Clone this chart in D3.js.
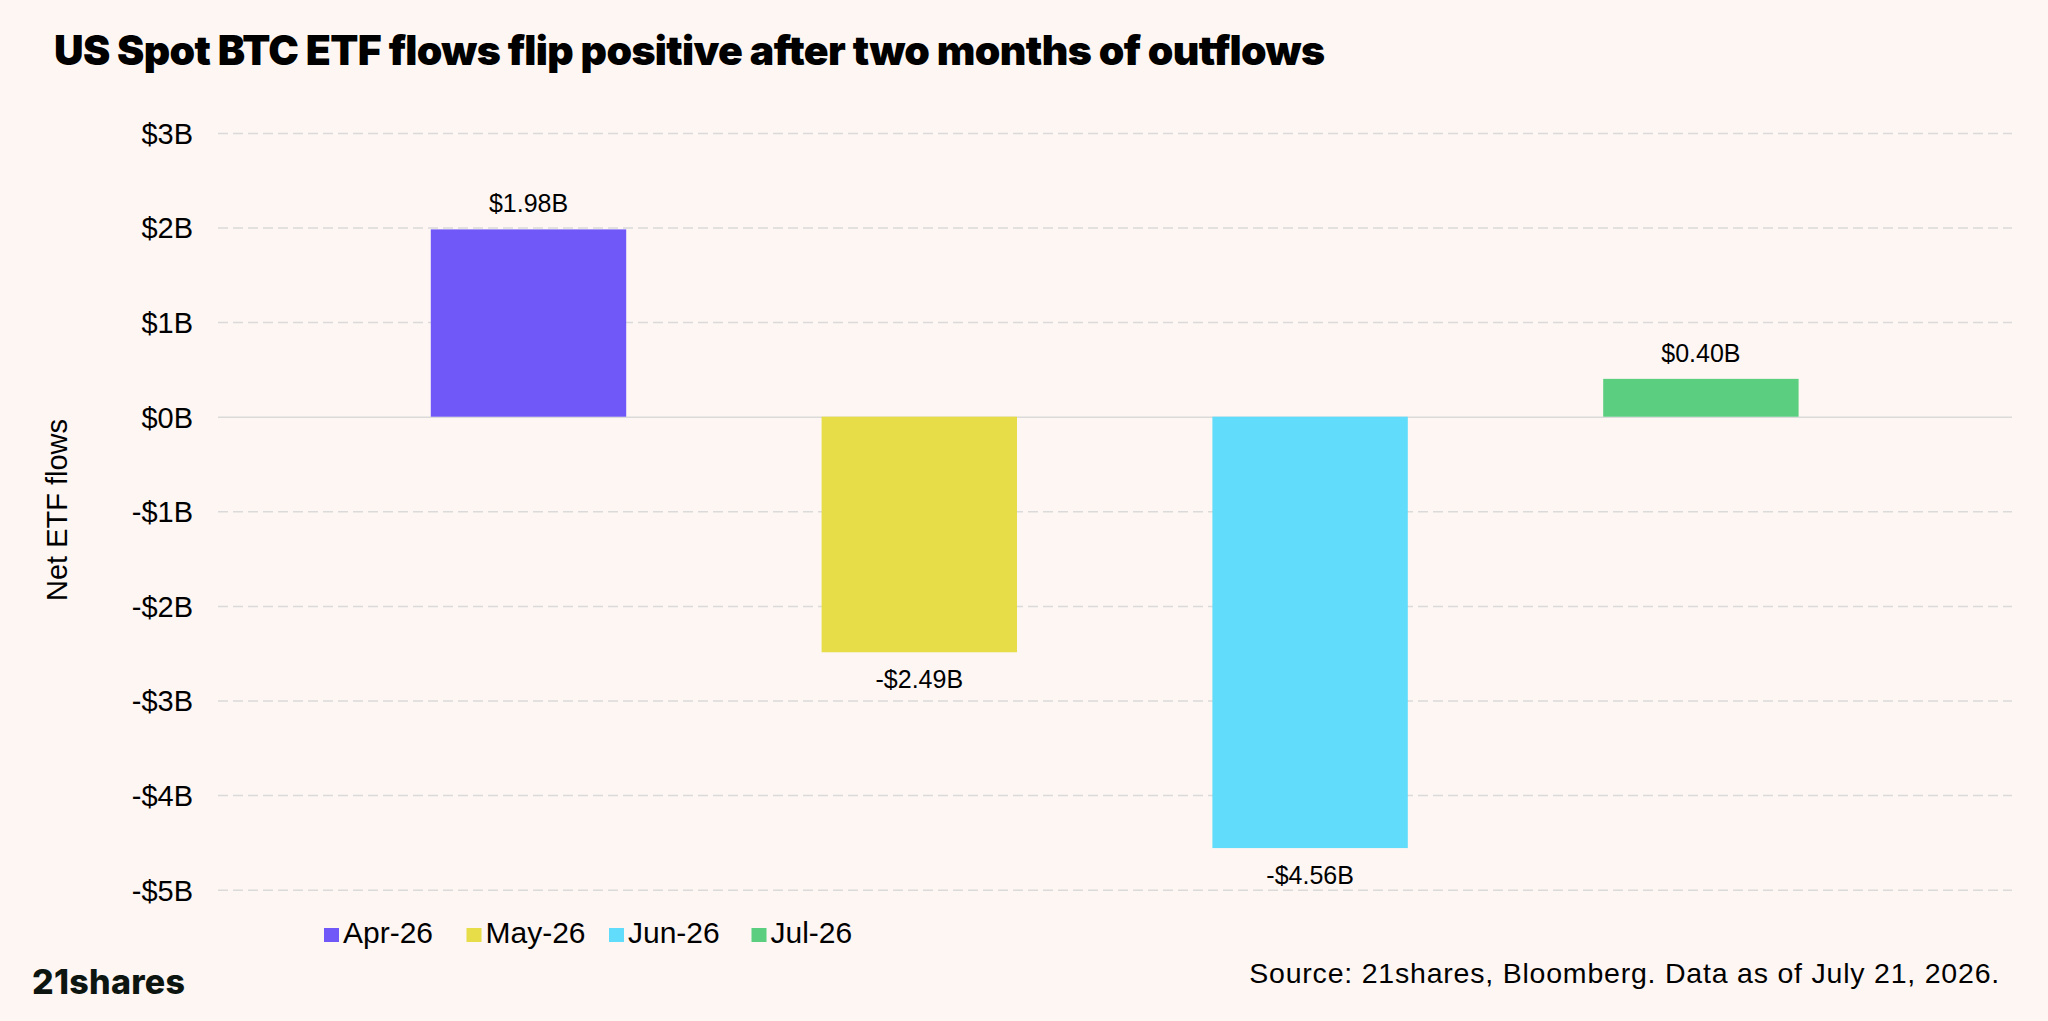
<!DOCTYPE html>
<html>
<head>
<meta charset="utf-8">
<script src="https://cdn.jsdelivr.net/npm/d3@7"></script>
<style>
  html, body { margin: 0; padding: 0; background: #FDF6F3; }
  svg { display: block; }
</style>
</head>
<body>
<svg id="chart" width="2048" height="1021"></svg>
<script>
// ---- Data ----
const categories = ["Apr-26", "May-26", "Jun-26", "Jul-26"];
const flows = [1.98, -2.49, -4.56, 0.40];           // $B
const valueLabels = ["$1.98B", "-$2.49B", "-$4.56B", "$0.40B"];
const barColors = ["#7057F8", "#E6DD48", "#61DCFA", "#5BCF7F"];
const yTicks = [3, 2, 1, 0, -1, -2, -3, -4, -5];
const yTickLabels = ["$3B", "$2B", "$1B", "$0B", "-$1B", "-$2B", "-$3B", "-$4B", "-$5B"];
const titleText = "US Spot BTC ETF flows flip positive after two months of outflows";
const yAxisTitle = "Net ETF flows";
const sourceText = "Source: 21shares, Bloomberg. Data as of July 21, 2026.";
const logoText = "21shares";

// ---- Layout ----
const W = 2048, H = 1021;
const svg = d3.select("#chart");
svg.append("rect").attr("width", W).attr("height", H).attr("fill", "#FDF6F3");

const gridX0 = 218, gridX1 = 2012;
const y = d3.scaleLinear().domain([-5, 3]).range([889.7, 132.9]);
const x = d3.scaleBand().domain(categories).range([333.1, 1896.3])
  .paddingInner(0.5).paddingOuter(0.25);

const sans = "'Liberation Sans', Arial, Helvetica, sans-serif";

function fitSpacing(sel, targetW) {
  const len = sel.node().getComputedTextLength();
  const n = sel.text().length;
  sel.attr("letter-spacing", ((targetW - len) / (n - 1)).toFixed(3));
}

// Title
const title = svg.append("text")
  .attr("x", 54).attr("y", 65)
  .attr("font-family", "Inter, 'Liberation Sans', sans-serif")
  .attr("font-weight", 900)
  .attr("font-size", 41)
  .attr("fill", "#000")
  .text(titleText);
fitSpacing(title, 1271);

// Gridlines via axis
const yAxis = d3.axisLeft(y).tickValues(yTicks)
  .tickSize(-(gridX1 - gridX0))
  .tickFormat((d, i) => yTickLabels[i]);
const gAxis = svg.append("g").attr("transform", `translate(${gridX0},0)`).call(yAxis);
gAxis.select(".domain").remove();
gAxis.selectAll(".tick line")
  .attr("stroke", "#DADADA")
  .attr("stroke-width", 1.5)
  .attr("stroke-dasharray", d => d === 0 ? null : "10,5");
gAxis.selectAll(".tick text")
  .attr("x", -25)
  .attr("dy", "0.36em")
  .attr("font-family", sans)
  .attr("font-size", 29)
  .attr("fill", "#000");

// Bars
svg.append("g").selectAll("rect").data(categories).join("rect")
  .attr("x", d => x(d))
  .attr("width", x.bandwidth())
  .attr("y", (d, i) => y(Math.max(0, flows[i])))
  .attr("height", (d, i) => Math.abs(y(flows[i]) - y(0)))
  .attr("fill", (d, i) => barColors[i]);

// Value labels
svg.append("g").selectAll("text").data(categories).join("text")
  .attr("x", d => x(d) + x.bandwidth() / 2)
  .attr("y", (d, i) => flows[i] >= 0 ? y(flows[i]) - 17 : y(flows[i]) + 36)
  .attr("text-anchor", "middle")
  .attr("font-family", sans)
  .attr("font-size", 25)
  .attr("fill", "#000")
  .text((d, i) => valueLabels[i]);

// Y axis title
svg.append("text")
  .attr("transform", "translate(66.5,510) rotate(-90)")
  .attr("text-anchor", "middle")
  .attr("font-family", sans)
  .attr("font-size", 29)
  .attr("fill", "#000")
  .text(yAxisTitle);

// Legend
const legendStep = 142.5;
const legend = svg.append("g").attr("transform", "translate(324,0)");
categories.forEach((c, i) => {
  const g = legend.append("g").attr("transform", `translate(${i * legendStep},0)`);
  g.append("rect").attr("x", 0).attr("y", 928).attr("width", 15).attr("height", 14)
    .attr("fill", barColors[i]);
  g.append("text").attr("x", 19).attr("y", 943)
    .attr("font-family", sans).attr("font-size", 30).attr("fill", "#000").text(c);
});

// Logo
const logo = svg.append("text")
  .attr("x", 32).attr("y", 994)
  .attr("font-family", "Inter, 'Liberation Sans', sans-serif")
  .attr("font-weight", 800)
  .attr("font-size", 34)
  .attr("fill", "#0D1510")
  .text(logoText);
fitSpacing(logo, 153);

// Source
const src = svg.append("text")
  .attr("x", 2000).attr("y", 983)
  .attr("text-anchor", "end")
  .attr("font-family", sans)
  .attr("font-size", 28.5)
  .attr("fill", "#000")
  .text(sourceText);
fitSpacing(src, 750);
</script>
</body>
</html>
